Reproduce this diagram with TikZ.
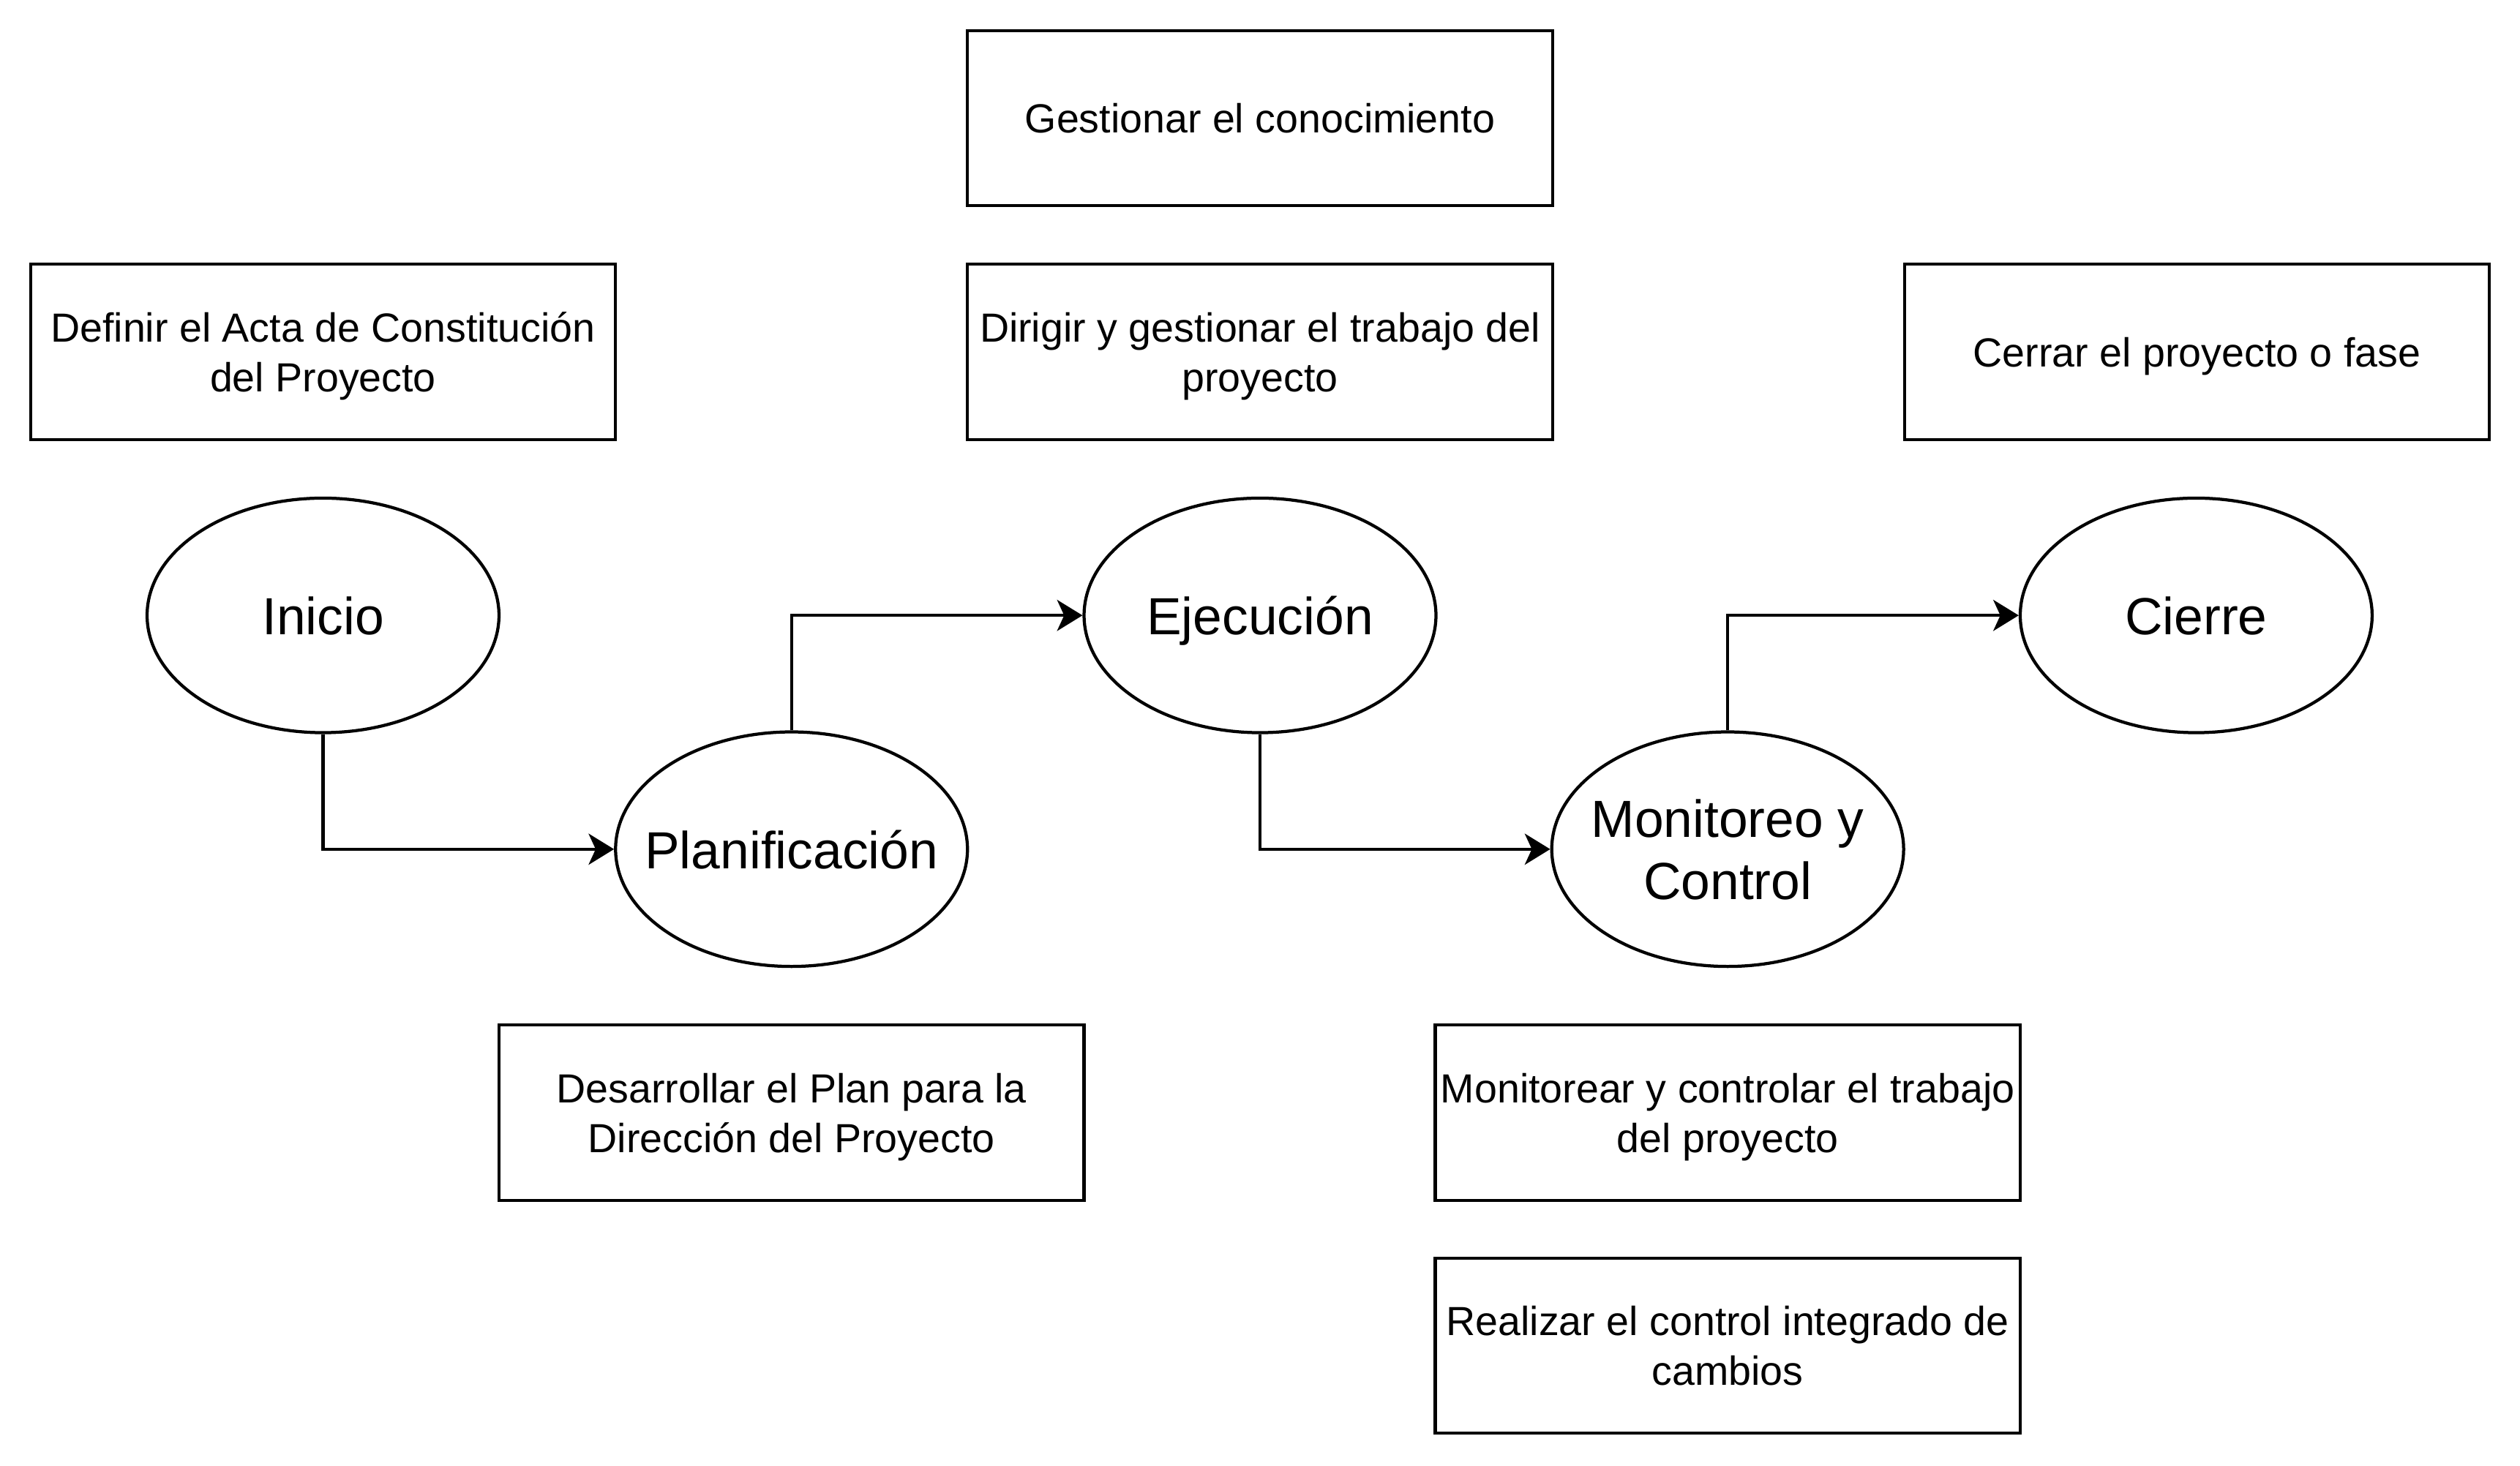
\documentclass[tikz,border=0pt]{standalone}
\usepackage{fontspec}
\setmainfont{Liberation Sans}
\usetikzlibrary{shapes.geometric,arrows.meta}

\tikzset{
  tarea/.style={draw, line width=1.1pt, rectangle, minimum width=7.28cm, minimum height=2.18cm,
    inner sep=0pt, text depth=0pt, align=center, font=\fontsize{14.4}{17.6}\selectfont},
  fase/.style={draw, line width=1.1pt, ellipse, minimum width=4.38cm, minimum height=2.92cm,
    inner xsep=-15pt, inner ysep=0pt, text depth=0pt, align=center, font=\fontsize{18.5}{22.1}\selectfont},
  flecha/.style={->, line width=1.1pt, >={Stealth[length=9pt,width=11pt,inset=2.5pt]}}
}

\begin{document}
\begin{tikzpicture}[x=0.02cm, y=-0.02cm]
      % \draw[help lines](0,0) grid (1568,912);
      \useasboundingbox (0,0) rectangle (1568,912);

      % fases
      \draw (201,383) node[fase] (inicio) {Inicio};
      \draw (492.5,528.5) node[fase] (planif) {Planificación};
      \draw (784,383) node[fase] (ejec) {Ejecución};
      \draw (1075,528.5) node[fase] (monit) {Monitoreo y\\Control};
      \draw (1366.5,383) node[fase] (cierre) {Cierre};

      % procesos
      \draw (784,73.5) node[tarea] (conoc) {Gestionar el conocimiento};
      \draw (201,219) node[tarea] (acta) {Definir el Acta de Constitución\\del Proyecto};
      \draw (784,219) node[tarea] (dirigir) {Dirigir y gestionar el trabajo del\\proyecto};
      \draw (1367,219) node[tarea] (cerrar) {Cerrar el proyecto o fase};
      \draw (492.5,692.5) node[tarea] (plan) {Desarrollar el Plan para la\\Dirección del Proyecto};
      \draw (1075,692.5) node[tarea] (controlar) {Monitorear y controlar el trabajo\\del proyecto};
      \draw (1075,837.5) node[tarea] (cambios) {Realizar el control integrado de\\cambios};

      \draw [flecha] (inicio.south) |- (planif.west);
      \draw [flecha] (planif.north) |- (ejec.west);
      \draw [flecha] (ejec.south) |- (monit.west);
      \draw [flecha] (monit.north) |- (cierre.west);
    \end{tikzpicture}
\end{document}
